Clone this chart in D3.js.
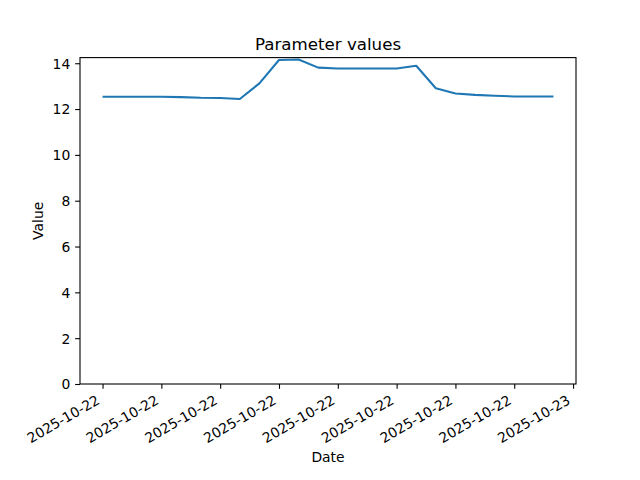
<!DOCTYPE html>
<html><head><meta charset="utf-8">
<script src="https://cdn.jsdelivr.net/npm/d3@7"></script>
<style>body{margin:0;background:#fff}svg{display:block;font-family:"DejaVu Sans",sans-serif}</style>
</head><body>
<script>
const times = ["2025-10-22T00:00","2025-10-22T01:00","2025-10-22T02:00","2025-10-22T03:00","2025-10-22T04:00","2025-10-22T05:00","2025-10-22T06:00","2025-10-22T07:00","2025-10-22T08:00","2025-10-22T09:00","2025-10-22T10:00","2025-10-22T11:00","2025-10-22T12:00","2025-10-22T13:00","2025-10-22T14:00","2025-10-22T15:00","2025-10-22T16:00","2025-10-22T17:00","2025-10-22T18:00","2025-10-22T19:00","2025-10-22T20:00","2025-10-22T21:00","2025-10-22T22:00","2025-10-22T23:00"];
const values = [12.54,12.54,12.54,12.54,12.52,12.49,12.48,12.44,13.12,14.14,14.16,13.81,13.77,13.77,13.77,13.77,13.89,12.91,12.68,12.62,12.58,12.55,12.55,12.55];
const yTicks = [0,2,4,6,8,10,12,14];
const title = "Parameter values", xLabel = "Date", yLabel = "Value";

const W=640,H=480, L=80,R=576,T=57.6,B=384;
const parse = d3.isoParse;
const data = times.map((t,i)=>({t:parse(t), v:values[i]}));
const t0 = data[0].t, t1 = data[data.length-1].t;
const span = t1 - t0;
const x = d3.scaleTime().domain([new Date(+t0 - span*0.05), new Date(+t1 + span*0.05)]).range([L,R]);
const vmin=d3.min(values), vmax=d3.max(values);
const y = d3.scaleLinear().domain([0, vmax + 0.05*(vmax-vmin)]).range([B,T]);

const svg = d3.select("body").append("svg").attr("width",W).attr("height",H);
const fs = 13.9;
const FF = "DejaVu Sans";

// line
svg.append("path").datum(data)
  .attr("fill","none").attr("stroke","#1f77b4").attr("stroke-width",2.08)
  .attr("stroke-linejoin","round").attr("stroke-linecap","butt")
  .attr("d", d3.line().x(d=>x(d.t)).y(d=>y(d.v)));

// axes
const xTickVals = d3.range(0,25,3).map(h=>new Date(+t0 + h*3600e3));
const xAxis = d3.axisBottom(x).tickValues(xTickVals).tickFormat(d3.timeFormat("%Y-%m-%d")).tickSize(4.86).tickPadding(4.86);
const gx = svg.append("g").attr("transform",`translate(0,${B})`).call(xAxis).attr("font-family",FF);
gx.select(".domain").remove();
gx.selectAll("line").attr("stroke","#000").attr("stroke-width",1.1);
gx.selectAll(".tick text").attr("font-size",fs).attr("fill","#000")
  .attr("text-anchor","end").attr("dy",null).attr("dominant-baseline","hanging")
  .attr("y",0).attr("x",0)
  .attr("transform","translate(-7.5,10) rotate(-30)");

const yAxis = d3.axisLeft(y).tickValues(yTicks).tickFormat(d3.format("d")).tickSize(4.86).tickPadding(4.86);
const gy = svg.append("g").attr("transform",`translate(${L},0)`).call(yAxis).attr("font-family",FF);
gy.select(".domain").remove();
gy.selectAll("line").attr("stroke","#000").attr("stroke-width",1.1);
gy.selectAll("text").attr("font-size",fs).attr("fill","#000").attr("dy","0.35em");

// frame
svg.append("rect").attr("x",L).attr("y",T).attr("width",R-L).attr("height",B-T)
  .attr("fill","none").attr("stroke","#000").attr("stroke-width",1.1);

svg.append("text").attr("x",(L+R)/2).attr("y",T-8).attr("text-anchor","middle")
  .attr("font-size",16.67).text(title);
svg.append("text").attr("x",(L+R)/2).attr("y",462).attr("text-anchor","middle")
  .attr("font-size",fs).text(xLabel);
svg.append("text").attr("transform",`translate(43,${(T+B)/2}) rotate(-90)`).attr("text-anchor","middle")
  .attr("font-size",fs).text(yLabel);
</script>
</body></html>
